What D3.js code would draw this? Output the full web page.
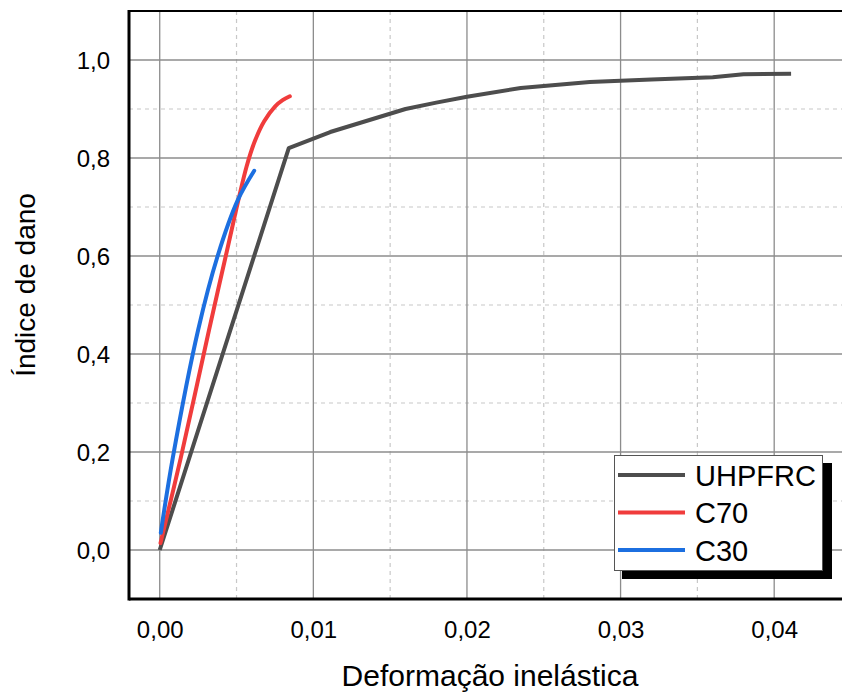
<!DOCTYPE html>
<html>
<head>
<meta charset="utf-8">
<script src="https://cdn.jsdelivr.net/npm/d3@7"></script>
<style>
  html, body { margin: 0; padding: 0; background: #fff; }
  svg { display: block; font-family: "Liberation Sans", Arial, sans-serif; }
</style>
</head>
<body>
<svg id="chart" width="842" height="693"></svg>
<script>
// ---- data ----
const seriesNames = ["UHPFRC", "C70", "C30"];
const uhpfrc = [
  [0.0000, 0.000], [0.0084, 0.820], [0.0111, 0.853], [0.0160, 0.900],
  [0.0180, 0.913], [0.0200, 0.925], [0.0235, 0.943], [0.0280, 0.955],
  [0.0320, 0.960], [0.0360, 0.965], [0.0380, 0.971], [0.0411, 0.972]
];
const c70 = [
  [0.00005, 0.014], [0.00137, 0.188], [0.00321, 0.449], [0.0043, 0.600],
  [0.00565, 0.782], [0.0062, 0.835], [0.0068, 0.875], [0.0075, 0.905],
  [0.0080, 0.918], [0.00847, 0.926]
];
const c30 = [
  [0.00007, 0.035], [0.00085, 0.188], [0.0025, 0.449], [0.00377, 0.600],
  [0.00508, 0.714], [0.00615, 0.774]
];
const xMajorTicks = [0, 0.01, 0.02, 0.03, 0.04];
const xMinorTicks = [0.005, 0.015, 0.025, 0.035];
const yMajorTicks = [0, 0.2, 0.4, 0.6, 0.8, 1.0];
const yMinorTicks = [0.1, 0.3, 0.5, 0.7, 0.9];
const xTitle = "Deformação inelástica";
const yTitle = "Índice de dano";

// ---- layout ----
const svg = d3.select("#chart");
const L = 129, R = 851, T = 11, B = 599;
const x = d3.scaleLinear().domain([-0.002, 0.045]).range([L, R]);
const y = d3.scaleLinear().domain([-0.1, 1.1]).range([B, T]);
const colors = { "UHPFRC": "#4d4d4d", "C70": "#f03c3c", "C30": "#1c6fe0" };
const fmtX = v => d3.format(".2f")(v).replace(".", ",");
const fmtY = v => d3.format(".1f")(v).replace(".", ",");

// grid
const g = svg.append("g");
g.selectAll(".xmin").data(xMinorTicks).join("line")
  .attr("x1", d => x(d)).attr("x2", d => x(d)).attr("y1", T).attr("y2", B)
  .attr("stroke", "#c8c8c8").attr("stroke-width", 1.2).attr("stroke-dasharray", "4,4");
g.selectAll(".ymin").data(yMinorTicks).join("line")
  .attr("x1", L).attr("x2", R).attr("y1", d => y(d)).attr("y2", d => y(d))
  .attr("stroke", "#c8c8c8").attr("stroke-width", 1.2).attr("stroke-dasharray", "4,4");
g.selectAll(".xmaj").data(xMajorTicks).join("line")
  .attr("x1", d => x(d)).attr("x2", d => x(d)).attr("y1", T).attr("y2", B)
  .attr("stroke", "#8c8c8c").attr("stroke-width", 1.3);
g.selectAll(".ymaj").data(yMajorTicks).join("line")
  .attr("x1", L).attr("x2", R).attr("y1", d => y(d)).attr("y2", d => y(d))
  .attr("stroke", "#8c8c8c").attr("stroke-width", 1.3);

// axes frame
svg.append("line").attr("x1", L).attr("x2", L).attr("y1", T - 1).attr("y2", B + 1.5)
  .attr("stroke", "#000").attr("stroke-width", 3);
svg.append("line").attr("x1", L).attr("x2", 842).attr("y1", B).attr("y2", B)
  .attr("stroke", "#000").attr("stroke-width", 3);
svg.append("line").attr("x1", L).attr("x2", 842).attr("y1", T).attr("y2", T)
  .attr("stroke", "#000").attr("stroke-width", 2);

// axis tick labels via d3 axes (no tick lines)
const xAxis = d3.axisBottom(x).tickValues(xMajorTicks).tickFormat(fmtX).tickSize(0).tickPadding(0);
const xa = svg.append("g").attr("transform", `translate(0,${B})`).call(xAxis);
xa.select(".domain").remove();
xa.selectAll("text").attr("font-size", 24).attr("fill", "#000")
  .attr("font-family", "Liberation Sans, Arial, sans-serif").attr("y", 39).attr("dy", 0);

const yAxis = d3.axisLeft(y).tickValues(yMajorTicks).tickFormat(fmtY).tickSize(0).tickPadding(19);
const ya = svg.append("g").attr("transform", `translate(${L},0)`).call(yAxis);
ya.select(".domain").remove();
ya.selectAll("text").attr("font-size", 24).attr("fill", "#000")
  .attr("font-family", "Liberation Sans, Arial, sans-serif").attr("dy", "0.36em");

// titles
svg.append("text").attr("x", 490).attr("y", 686).attr("text-anchor", "middle")
  .attr("font-size", 30).attr("fill", "#000").text(xTitle);
svg.append("text").attr("transform", "translate(35,285) rotate(-90)").attr("text-anchor", "middle")
  .attr("font-size", 28).attr("fill", "#000").text(yTitle);

// lines
const line = d3.line().x(d => x(d[0])).y(d => y(d[1]));
const smooth = d3.line().x(d => x(d[0])).y(d => y(d[1])).curve(d3.curveCatmullRom.alpha(0.5));
const plot = svg.append("g");
plot.append("path").datum(uhpfrc).attr("d", line).attr("fill", "none")
  .attr("stroke", colors["UHPFRC"]).attr("stroke-width", 4).attr("stroke-linejoin", "round");
plot.append("path").datum(c70).attr("d", smooth).attr("fill", "none")
  .attr("stroke", colors["C70"]).attr("stroke-width", 4).attr("stroke-linecap", "round");
plot.append("path").datum(c30).attr("d", smooth).attr("fill", "none")
  .attr("stroke", colors["C30"]).attr("stroke-width", 4).attr("stroke-linecap", "round");

// legend
const lg = svg.append("g");
lg.append("rect").attr("x", 622).attr("y", 463).attr("width", 210).attr("height", 116).attr("fill", "#000");
lg.append("rect").attr("x", 614.5).attr("y", 455.5).attr("width", 208).attr("height", 115)
  .attr("fill", "#fff").attr("stroke", "#555").attr("stroke-width", 1);
seriesNames.forEach((n, i) => {
  const cy = 475 + i * 37.5;
  lg.append("line").attr("x1", 618).attr("x2", 685).attr("y1", cy).attr("y2", cy)
    .attr("stroke", colors[n]).attr("stroke-width", 4);
  lg.append("text").attr("x", 695).attr("y", cy + 10.5).attr("font-size", 29)
    .attr("fill", "#000").text(n);
});
</script>
</body>
</html>
